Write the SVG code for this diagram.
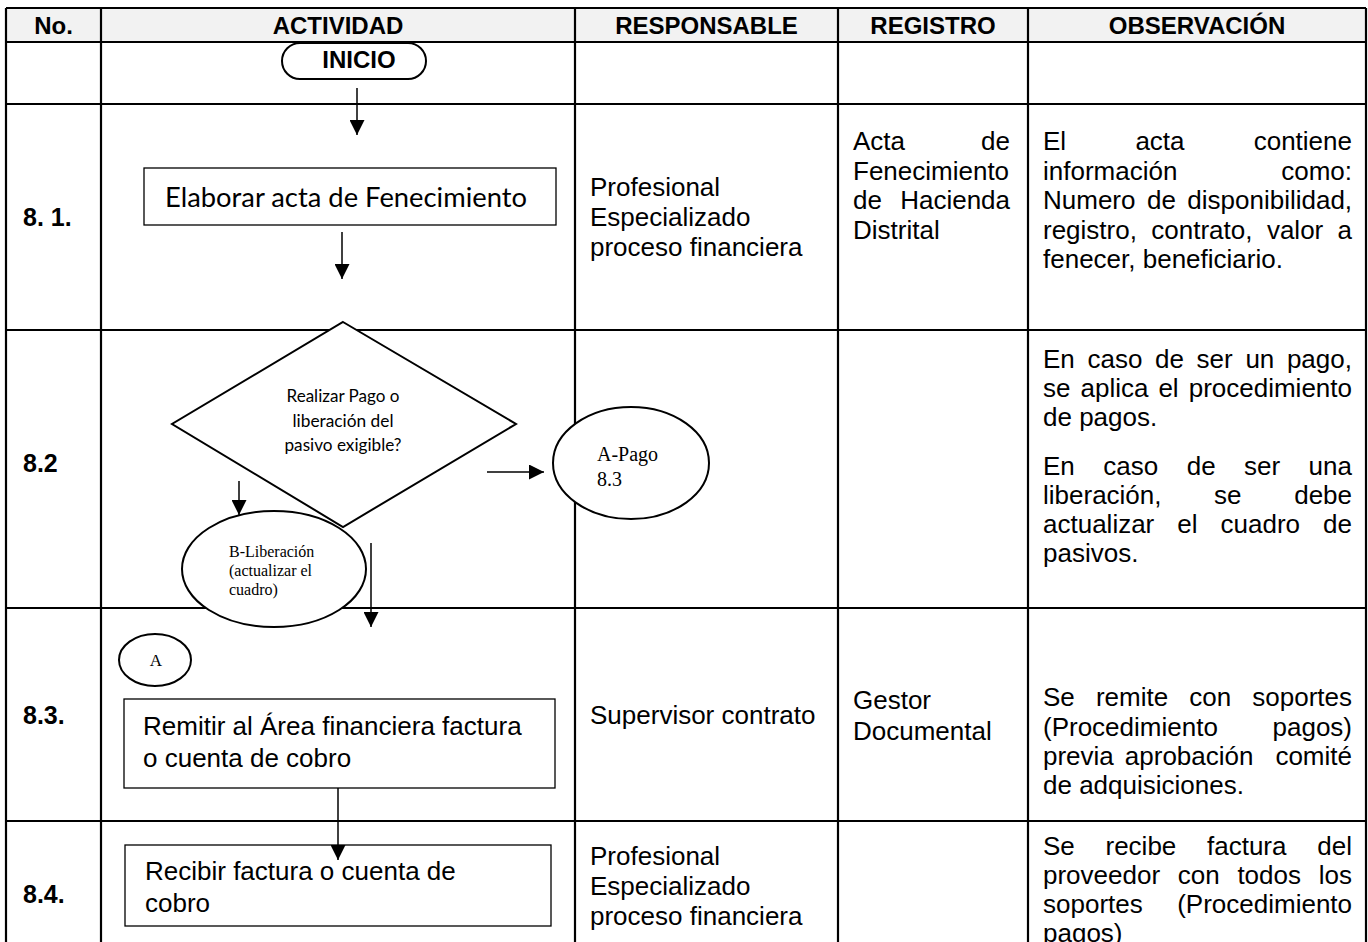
<svg xmlns="http://www.w3.org/2000/svg" width="1368" height="942" viewBox="0 0 1368 942">
<style>
.grid{stroke:#000;stroke-width:2.2;fill:none}
.hdr{fill:#f2f2f2}
.h{font-family:"Liberation Sans",Arial,sans-serif;font-size:24px;font-weight:bold;text-anchor:middle;fill:#000}
.t{font-family:"Liberation Sans",Arial,sans-serif;font-size:26px;fill:#000}
.num{font-family:"Liberation Sans",Arial,sans-serif;font-size:25px;font-weight:bold;fill:#000}
.box{fill:#fff;stroke:#000;stroke-width:1.3}
.shape{fill:#fff;stroke:#000;stroke-width:2}
.cal{font-family:Lato,"Open Sans",sans-serif;fill:#000}
.tm{font-family:"Liberation Serif","Times New Roman",serif;fill:#000}
.conn{stroke:#000;stroke-width:1.5;fill:none;marker-end:url(#arr)}
</style>
<defs>
<marker id="arr" markerUnits="userSpaceOnUse" markerWidth="15" markerHeight="15" refX="15" refY="7.5" orient="auto" viewBox="0 0 15 15"><path d="M0,0 L15,7.5 L0,15 z" fill="#000"/></marker>
</defs>

<g id="table">
<rect class="hdr" x="6" y="8" width="1360" height="34"/>
<path class="grid" d="M6,8 H1366 M6,42 H1366 M6,104 H1366 M6,330 H1366 M6,608 H1366 M6,821 H1366 M6,8 V942 M101,8 V942 M575,8 V942 M838,8 V942 M1028,8 V942 M1366,8 V942"/>
<text class="h" x="53.5" y="34">No.</text>
<text class="h" x="338" y="34">ACTIVIDAD</text>
<text class="h" x="706.5" y="34">RESPONSABLE</text>
<text class="h" x="933" y="34">REGISTRO</text>
<text class="h" x="1197" y="34">OBSERVACIÓN</text>
</g>

<g id="row-8-1">
<text class="num" x="23" y="226">8. 1.</text>
<text class="t" x="590" y="196">Profesional</text>
<text class="t" x="590" y="226">Especializado</text>
<text class="t" x="590" y="256">proceso financiera</text>
<text class="t" y="150"><tspan x="853">Acta</tspan><tspan x="981.1">de</tspan></text>
<text class="t" x="853" y="179.5">Fenecimiento</text>
<text class="t" y="209"><tspan x="853">de</tspan><tspan x="900.2">Hacienda</tspan></text>
<text class="t" x="853" y="238.5">Distrital</text>
<text class="t" y="150"><tspan x="1043">El</tspan><tspan x="1135.4">acta</tspan><tspan x="1253.7">contiene</tspan></text>
<text class="t" y="179.5"><tspan x="1043">información</tspan><tspan x="1281.2">como:</tspan></text>
<text class="t" y="209"><tspan x="1043">Numero</tspan><tspan x="1147">de</tspan><tspan x="1187.3">disponibilidad,</tspan></text>
<text class="t" y="238.5"><tspan x="1043">registro,</tspan><tspan x="1151.3">contrato,</tspan><tspan x="1266.9">valor</tspan><tspan x="1337.5">a</tspan></text>
<text class="t" x="1043" y="268">fenecer, beneficiario.</text>
</g>

<g id="row-8-2">
<text class="num" x="23" y="472">8.2</text>
<text class="t" y="368"><tspan x="1043">En</tspan><tspan x="1087.5">caso</tspan><tspan x="1155.1">de</tspan><tspan x="1196.6">ser</tspan><tspan x="1245.4">un</tspan><tspan x="1286.9">pago,</tspan></text>
<text class="t" y="397"><tspan x="1043">se</tspan><tspan x="1080.5">aplica</tspan><tspan x="1158.4">el</tspan><tspan x="1188.7">procedimiento</tspan></text>
<text class="t" x="1043" y="426">de pagos.</text>
<text class="t" y="475"><tspan x="1043">En</tspan><tspan x="1103.3">caso</tspan><tspan x="1186.7">de</tspan><tspan x="1244.1">ser</tspan><tspan x="1308.6">una</tspan></text>
<text class="t" y="504"><tspan x="1043">liberación,</tspan><tspan x="1214.1">se</tspan><tspan x="1294.2">debe</tspan></text>
<text class="t" y="533"><tspan x="1043">actualizar</tspan><tspan x="1177.3">el</tspan><tspan x="1220.5">cuadro</tspan><tspan x="1323.1">de</tspan></text>
<text class="t" x="1043" y="562">pasivos.</text>
</g>

<g id="row-8-3">
<text class="num" x="23" y="724">8.3.</text>
<text class="t" x="590" y="724">Supervisor contrato</text>
<text class="t" x="853" y="709">Gestor</text>
<text class="t" x="853" y="740">Documental</text>
<text class="t" y="706"><tspan x="1043">Se</tspan><tspan x="1095.9">remite</tspan><tspan x="1189.2">con</tspan><tspan x="1252.3">soportes</tspan></text>
<text class="t" y="736"><tspan x="1043">(Procedimiento</tspan><tspan x="1272.5">pagos)</tspan></text>
<text class="t" y="765"><tspan x="1043">previa</tspan><tspan x="1124.8">aprobación</tspan><tspan x="1275.4">comité</tspan></text>
<text class="t" x="1043" y="794">de adquisiciones.</text>
</g>

<g id="row-8-4">
<text class="num" x="23" y="903">8.4.</text>
<text class="t" x="590" y="865">Profesional</text>
<text class="t" x="590" y="895">Especializado</text>
<text class="t" x="590" y="925">proceso financiera</text>
<text class="t" y="855"><tspan x="1043">Se</tspan><tspan x="1105.5">recibe</tspan><tspan x="1207">factura</tspan><tspan x="1317.3">del</tspan></text>
<text class="t" y="884"><tspan x="1043">proveedor</tspan><tspan x="1177.8">con</tspan><tspan x="1237.4">todos</tspan><tspan x="1318.8">los</tspan></text>
<text class="t" y="913"><tspan x="1043">soportes</tspan><tspan x="1177.2">(Procedimiento</tspan></text>
<text class="t" x="1043" y="942">pagos)</text>
</g>

<g id="inicio">
<rect class="shape" x="282" y="43" width="144" height="36" rx="18" ry="18" stroke-width="1.5"/>
<text class="h" x="359" y="68">INICIO</text>
</g>

<g id="elaborar">
<rect class="box" x="144" y="168" width="412" height="57"/>
<text class="cal" x="165" y="207" font-size="27" textLength="362" lengthAdjust="spacingAndGlyphs">Elaborar acta de Fenecimiento</text>
</g>

<g id="decision">
<polygon class="shape" points="343,322 516,424 343,527 172,424"/>
<text class="cal" font-size="17" text-anchor="middle" x="343" y="402" textLength="113" lengthAdjust="spacingAndGlyphs">Realizar Pago o</text>
<text class="cal" font-size="17" text-anchor="middle" x="343" y="427" textLength="101" lengthAdjust="spacingAndGlyphs">liberación del</text>
<text class="cal" font-size="17" text-anchor="middle" x="343" y="451" textLength="117" lengthAdjust="spacingAndGlyphs">pasivo exigible?</text>
</g>

<g id="a-pago">
<ellipse class="shape" cx="631" cy="463" rx="78" ry="56"/>
<text class="tm" font-size="20" x="597" y="461">A-Pago</text>
<text class="tm" font-size="20" x="597" y="486">8.3</text>
</g>

<g id="b-liberacion">
<ellipse class="shape" cx="274" cy="569" rx="92" ry="58"/>
<text class="tm" font-size="16" x="229" y="557">B-Liberación</text>
<text class="tm" font-size="16" x="229" y="576">(actualizar el</text>
<text class="tm" font-size="16" x="229" y="595">cuadro)</text>
</g>

<g id="conector-a">
<ellipse class="shape" cx="155" cy="660" rx="36" ry="26" stroke-width="1.5"/>
<text class="tm" font-size="17" text-anchor="middle" x="156" y="666">A</text>
</g>

<g id="remitir">
<rect class="box" x="124" y="699" width="431" height="89"/>
<text class="t" x="143" y="735">Remitir al Área financiera factura</text>
<text class="t" x="143" y="767">o cuenta de cobro</text>
</g>

<g id="recibir">
<rect class="box" x="125" y="845" width="426" height="81"/>
<text class="t" x="145" y="880">Recibir factura o cuenta de</text>
<text class="t" x="145" y="912">cobro</text>
</g>

<g id="connectors">
<path class="conn" d="M357,88 V135"/>
<path class="conn" d="M342,232 V279"/>
<path class="conn" d="M487,472 H544"/>
<path class="conn" d="M239,481 V515"/>
<path class="conn" d="M371,543 V627"/>
<path class="conn" d="M338,788 V860"/>
</g>
</svg>
